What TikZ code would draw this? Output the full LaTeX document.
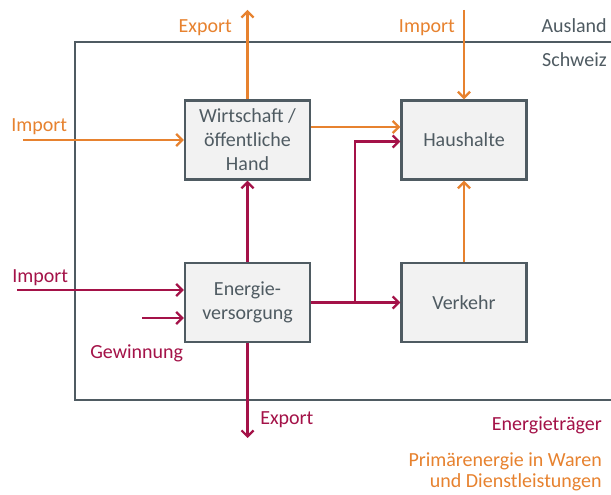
\documentclass[tikz,border=0pt]{standalone}
\usepackage{fontspec}
\setmainfont{Carlito}
\usetikzlibrary{arrows.meta,calc}
\definecolor{cOr}{HTML}{E7822F}
\definecolor{cRd}{HTML}{A41248}
\definecolor{cGy}{HTML}{4F5B62}
\definecolor{cFill}{HTML}{F2F2F2}
\begin{document}
\begin{tikzpicture}[x=0.75pt,y=-0.75pt,
  box/.style={draw=cGy, fill=cFill, line width=1.8pt, minimum width=93.75pt, minimum height=59.25pt, inner sep=0pt, align=center, text=cGy, font=\fontsize{15}{18}\selectfont},
  lbl/.style={inner sep=0pt, font=\fontsize{15}{18}\selectfont},
  flow/.style={line width=1.7pt, -{Straight Barb[length=4.5pt,width=9pt]}},
  frame/.style={draw=cGy, line width=1.5pt}]
\useasboundingbox (0,0) rectangle (611,495);
\fill[white] (0,0) rectangle (611,495);
\draw[frame] (611,42) -- (75,42) -- (75,400) -- (611,400);
% boxes
\node[box] (W) at (247.5,140) {Wirtschaft /\\öffentliche\\Hand};
\node[box] (H) at (464,140) {Haushalte};
\node[box] (E) at (247.5,302.5) {Energie-\\versorgung};
\node[box] (V) at (464,302.5) {Verkehr};
% orange flows
\coordinate (expT) at (247.5,10);
\draw[flow,cOr] (W.north) -- (expT);
\coordinate (impL) at (23,140);
\draw[flow,cOr] (impL) -- (W.west);
\coordinate (impT) at (464,10);
\draw[flow,cOr] (impT) -- (H.north);
\draw[flow,cOr] ($(W.east)+(0,-13)$) -- ($(H.west)+(0,-13)$);
\draw[flow,cOr] (V.north) -- (H.south);
% red flows
\draw[flow,cRd] (E.north) -- (W.south);
\draw[flow,cRd] (E.east) -- (V.west);
\coordinate (br) at (355,302.5);
\draw[flow,cRd] (br) |- ($(H.west)+(0,1.5)$);
\coordinate (impR) at (17,290);
\draw[flow,cRd] (impR) -- (E.west |- impR);
\coordinate (gew) at (142,318);
\draw[flow,cRd] (gew) -- (E.west |- gew);
\coordinate (expB) at (247.5,438);
\draw[flow,cRd] (E.south) -- (expB);
% labels
\node[lbl,text=cOr,anchor=base east] (lExpT) at (232,32.5) {Export};
\node[lbl,text=cOr,anchor=base west] (lImpL) at (11,132) {Import};
\node[lbl,text=cOr,anchor=base east] (lImpT) at (455,33) {Import};
\node[lbl,text=cGy,anchor=base east] (lAus) at (607,33) {Ausland};
\node[lbl,text=cGy,anchor=base east] (lSch) at (607,67) {Schweiz};
\node[lbl,text=cRd,anchor=base west] (lImpR) at (12,283) {Import};
\node[lbl,text=cRd,anchor=base west] (lGew) at (90,359) {Gewinnung};
\node[lbl,text=cRd,anchor=base west] (lExpB) at (260,425) {Export};
\node[lbl,text=cRd,anchor=base east] (lEt) at (602,431) {Energieträger};
\node[lbl,text=cOr,anchor=north east,align=right,font=\fontsize{15}{16}\selectfont] (lPe) at (602,452) {Primärenergie in Waren\\und Dienstleistungen};
\end{tikzpicture}
\end{document}
